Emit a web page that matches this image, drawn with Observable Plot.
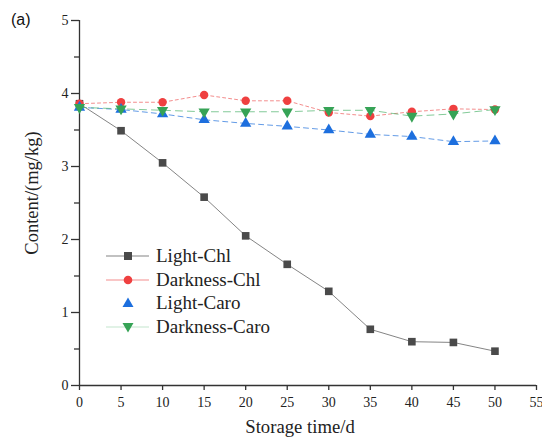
<!DOCTYPE html>
<html>
<head>
<meta charset="utf-8">
<script src="https://cdn.jsdelivr.net/npm/d3@7"></script>
<script src="https://cdn.jsdelivr.net/npm/@observablehq/plot@0.6"></script>
<style>
  body { margin: 0; background: #fff; }
  #wrap { position: relative; width: 542px; height: 437px; font-family: "Liberation Serif", "Times New Roman", serif; }
  #tag { position: absolute; left: 11px; top: 11px; font-family: "Liberation Sans", Arial, sans-serif; font-size: 16px; color: #111; }
  #legend { position: absolute; left: 104px; top: 244px; font-size: 19px; color: #222; }
  #legend .row { display: flex; align-items: center; height: 23.7px; }
  #legend svg { margin-right: 4px; }
</style>
</head>
<body>
<div id="wrap">
  <div id="chart"></div>
  <div id="tag">(a)</div>
  <div id="legend"></div>
</div>
<script>
const days = [0, 5, 10, 15, 20, 25, 30, 35, 40, 45, 50];
const lightChl     = [3.86, 3.49, 3.05, 2.58, 2.05, 1.66, 1.29, 0.77, 0.60, 0.59, 0.47];
const darknessChl  = [3.86, 3.88, 3.88, 3.98, 3.90, 3.90, 3.74, 3.69, 3.75, 3.79, 3.78];
const lightCaro    = [3.81, 3.78, 3.72, 3.64, 3.59, 3.55, 3.50, 3.44, 3.41, 3.34, 3.35];
const darknessCaro = [3.81, 3.79, 3.77, 3.75, 3.75, 3.75, 3.77, 3.77, 3.69, 3.72, 3.78];
const seriesNames  = ["Light-Chl", "Darkness-Chl", "Light-Caro", "Darkness-Caro"];
const xTicks = d3.range(0, 56, 5);
const yTicks = [0, 1, 2, 3, 4, 5];
const yMinorTicks = [0.5, 1.5, 2.5, 3.5, 4.5];

const downTriangle = {
  draw(context, size) {
    const y = Math.sqrt(size / (Math.sqrt(3) * 3));
    context.moveTo(0, y * 2);
    context.lineTo(-Math.sqrt(3) * y, -y);
    context.lineTo(Math.sqrt(3) * y, -y);
    context.closePath();
  }
};

const styles = [
  {color: "#4a4a4a", line: "#777", dash: null, lineOpacity: 0.9, symbol: "square", r: 4.3},
  {color: "#ef4040", line: "#f07070", dash: "3,3", lineOpacity: 0.8, symbol: "circle", r: 4.2},
  {color: "#1d6fde", line: "#3c82e0", dash: "5,4", lineOpacity: 0.8, symbol: "triangle", r: 4.2},
  {color: "#36a356", line: "#4fb46c", dash: "7,5", lineOpacity: 0.7, symbol: downTriangle, r: 4.2}
];

const allSeries = [lightChl, darknessChl, lightCaro, darknessCaro];
const data = allSeries.flatMap((vals, i) => vals.map((v, j) => ({series: seriesNames[i], day: days[j], value: v})));

const marks = [];
seriesNames.forEach((name, i) => {
  const st = styles[i];
  const d = data.filter(e => e.series === name);
  marks.push(Plot.line(d, {x: "day", y: "value", stroke: st.line, strokeWidth: 1, strokeOpacity: st.lineOpacity, strokeDasharray: st.dash}));
});
seriesNames.forEach((name, i) => {
  const st = styles[i];
  const d = data.filter(e => e.series === name);
  marks.push(Plot.dot(d, {x: "day", y: "value", fill: st.color, stroke: "none", symbol: st.symbol, r: st.r}));
});

const chart = Plot.plot({
  width: 542,
  height: 437,
  marginLeft: 79,
  marginRight: 6,
  marginTop: 20,
  marginBottom: 52,
  style: {fontFamily: "'Liberation Serif', 'Times New Roman', serif", color: "#222", background: "#fff"},
  x: {domain: [0, 55]},
  y: {domain: [0, 5]},
  marks: [
    Plot.axisX({ticks: xTicks, tickSize: 5, tickPadding: 7, fontSize: 14, label: null, stroke: "#333", strokeWidth: 1.3}),
    Plot.axisY({ticks: yTicks, tickFormat: d => String(d), tickSize: 8, tickPadding: 3, fontSize: 14, label: null, stroke: "#333", strokeWidth: 1.3}),
    Plot.axisY({ticks: yMinorTicks, tickSize: 5, text: null, label: null, stroke: "#333", strokeWidth: 1.3}),
    Plot.ruleX([0], {stroke: "#333", strokeWidth: 1.3}),
    Plot.ruleY([0], {stroke: "#333", strokeWidth: 1.3}),
    Plot.text(["Storage time/d"], {frameAnchor: "bottom", lineAnchor: "bottom", textAnchor: "middle", dx: -8, dy: 47, fontSize: 18.7, fill: "#222"}),
    Plot.text(["Content/(mg/kg)"], {frameAnchor: "left", lineAnchor: "middle", textAnchor: "middle", dx: -47, dy: -10, rotate: -90, fontSize: 18.5, fill: "#222"}),
    ...marks
  ]
});
document.getElementById("chart").appendChild(chart);

// Legend
const legend = document.getElementById("legend");
const symbolPaths = {
  square: "M-4,-4h8v8h-8z",
  circle: "M4.3,0A4.3,4.3,0,1,1,-4.3,0A4.3,4.3,0,1,1,4.3,0",
  triangle: "M0,-5.5L5.5,4H-5.5Z",
  down: "M0,5.5L5.5,-4H-5.5Z"
};
const legendSym = ["square", "circle", "triangle", "down"];
const legendLine = [true, true, false, true];
seriesNames.forEach((name, i) => {
  const st = styles[i];
  const row = document.createElement("div");
  row.className = "row";
  const lineEl = legendLine[i] ? `<line x1="2" x2="45" y1="12" y2="12" stroke="${st.line}" stroke-opacity="${i === 3 ? 0.35 : st.lineOpacity}" stroke-width="1"/>` : "";
  row.innerHTML = `<svg width="48" height="24">${lineEl}<path transform="translate(24,12)" d="${symbolPaths[legendSym[i]]}" fill="${st.color}"/></svg><span>${name}</span>`;
  legend.appendChild(row);
});
</script>
</body>
</html>
